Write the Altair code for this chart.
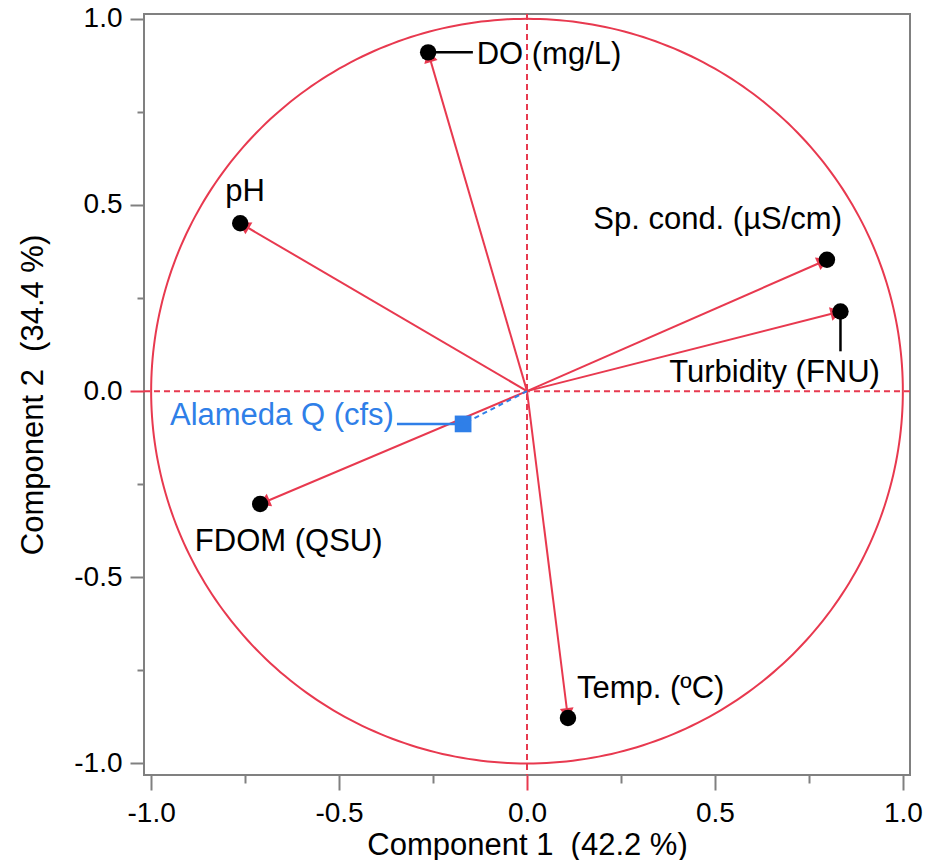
import altair as alt
import numpy as np
import pandas as pd

# ---- data ----
variables = ["DO (mg/L)", "pH", "Sp. cond. (µS/cm)", "Turbidity (FNU)", "FDOM (QSU)", "Temp. (ºC)"]
comp1 = [-0.263, -0.763, 0.798, 0.834, -0.710, 0.109]
comp2 = [0.910, 0.451, 0.353, 0.214, -0.303, -0.878]

supp_name = ["Alameda Q (cfs)"]
supp_comp1 = [-0.170]
supp_comp2 = [-0.088]

x_major = [-1.0, -0.5, 0.0, 0.5, 1.0]
x_minor = [-0.75, -0.25, 0.25, 0.75]
y_major = [-1.0, -0.5, 0.0, 0.5, 1.0]
y_minor = [-0.75, -0.25, 0.25, 0.75]

x_title = "Component 1\u00a0 (42.2 %)"
y_title = "Component 2\u00a0 (34.4 %)"

# label placement (layout, kept separate from the values)
label_x = [-0.134, -0.750, 0.838, 0.939, -0.634, 0.133]
label_y = [0.902, 0.535, 0.460, 0.048, -0.406, -0.801]
label_align = ["left", "center", "right", "right", "center", "left"]
supp_label_x = [-0.354]
supp_label_y = [-0.067]

RED = "#e8394f"
BLUE = "#2f7fe8"
GRAY = "#808080"
FONT = "Liberation Sans"

XDOM = [-1.019, 1.019]
YDOM = [-1.031, 1.013]

xs = alt.Scale(domain=XDOM, nice=False, zero=False)
ys = alt.Scale(domain=YDOM, nice=False, zero=False)

# ---- tables ----
vec = pd.DataFrame({"name": variables, "x": comp1, "y": comp2, "ox": 0.0, "oy": 0.0,
                    "lx": label_x, "ly": label_y, "align": label_align})
vec["angle"] = np.degrees(np.arctan2(vec["x"] * 376, vec["y"] * 373.3)) % 360
r = np.sqrt(vec["x"] ** 2 + vec["y"] ** 2)
vec["hx"] = vec["x"] * (1 - 0.011 / r)
vec["hy"] = vec["y"] * (1 - 0.011 / r)

supp = pd.DataFrame({"name": supp_name, "x": supp_comp1, "y": supp_comp2, "ox": 0.0, "oy": 0.0,
                     "lx": supp_label_x, "ly": supp_label_y})

theta = np.linspace(0, 2 * np.pi, 361)
circle = pd.DataFrame({"cx": np.cos(theta), "cy": np.sin(theta), "i": np.arange(361)})

zero = pd.DataFrame({"z": [0.0]})

# leader lines: DO (horizontal), Turbidity (vertical)
lead = pd.DataFrame({
    "x": [comp1[0], comp1[3]],
    "x2": [-0.144, comp1[3]],
    "y": [comp2[0], comp2[3]],
    "y2": [comp2[0], 0.107],
})
supp_lead = pd.DataFrame({"x": [-0.346], "x2": supp_comp1, "y": supp_comp2, "y2": supp_comp2})

tick_color = alt.condition("datum.value == 0", alt.value(RED), alt.value(GRAY))
lab_expr = "replace(format(datum.value, '.1f'), '\u2212', '-')"

x_axis = alt.Axis(values=x_major, orient="bottom", labelExpr=lab_expr, tickSize=15, tickWidth=2,
                  tickColor=tick_color, domain=False, grid=False, labelFontSize=28, labelFont=FONT,
                  labelColor="black", labelPadding=9, labelFlush=False, title=x_title,
                  titleFont=FONT, titleFontSize=31, titleFontWeight="normal", titleColor="black",
                  titleBaseline="alphabetic", titleY=79)
y_axis = alt.Axis(values=y_major, orient="left", labelExpr=lab_expr, tickSize=14, tickWidth=2,
                  tickColor=tick_color, domain=False, grid=False, labelFontSize=28, labelFont=FONT,
                  labelColor="black", labelPadding=8, labelFlush=False, title=y_title,
                  titleFont=FONT, titleFontSize=31, titleFontWeight="normal", titleColor="black",
                  titlePadding=24)
x_minor_axis = alt.Axis(values=x_minor, orient="bottom", tickSize=8, tickWidth=2, tickColor=GRAY,
                        domain=False, grid=False, labels=False, title="")
y_minor_axis = alt.Axis(values=y_minor, orient="left", tickSize=7, tickWidth=2, tickColor=GRAY,
                        domain=False, grid=False, labels=False, title="")

circle_layer = alt.Chart(circle).mark_line(color=RED, strokeWidth=2, clip=True).encode(
    x=alt.X("cx:Q", scale=xs, axis=x_axis),
    y=alt.Y("cy:Q", scale=ys, axis=y_axis),
    order="i:Q",
)

minor_layer = alt.Chart(circle).mark_line(opacity=0).encode(
    x=alt.X("cx:Q", scale=xs, axis=x_minor_axis),
    y=alt.Y("cy:Q", scale=ys, axis=y_minor_axis),
    order="i:Q",
)

h_ref = alt.Chart(zero).mark_rule(color=RED, strokeWidth=2, strokeDash=[6, 4]).encode(
    y=alt.Y("z:Q", scale=ys, axis=None))
v_ref = alt.Chart(zero).mark_rule(color=RED, strokeWidth=2, strokeDash=[6, 4]).encode(
    x=alt.X("z:Q", scale=xs, axis=None))

arrows = alt.Chart(vec).mark_rule(color=RED, strokeWidth=2).encode(
    x=alt.X("ox:Q", scale=xs, axis=None), y=alt.Y("oy:Q", scale=ys, axis=None),
    x2="x:Q", y2="y:Q")

heads = alt.Chart(vec).mark_point(shape="triangle-up", filled=True, color=RED, size=190, opacity=1).encode(
    x=alt.X("hx:Q", scale=xs, axis=None), y=alt.Y("hy:Q", scale=ys, axis=None),
    angle=alt.Angle("angle:Q", scale=None))

dots = alt.Chart(vec).mark_circle(color="black", size=270, opacity=1).encode(
    x=alt.X("x:Q", scale=xs, axis=None), y=alt.Y("y:Q", scale=ys, axis=None))

supp_line = alt.Chart(supp).mark_rule(color=BLUE, strokeWidth=2, strokeDash=[5, 4]).encode(
    x=alt.X("ox:Q", scale=xs, axis=None), y=alt.Y("oy:Q", scale=ys, axis=None),
    x2="x:Q", y2="y:Q")

supp_pt = alt.Chart(supp).mark_square(color=BLUE, size=280, opacity=1).encode(
    x=alt.X("x:Q", scale=xs, axis=None), y=alt.Y("y:Q", scale=ys, axis=None))

leaders = alt.Chart(lead).mark_rule(color="black", strokeWidth=2.5).encode(
    x=alt.X("x:Q", scale=xs, axis=None), y=alt.Y("y:Q", scale=ys, axis=None),
    x2="x2:Q", y2="y2:Q")

supp_leader = alt.Chart(supp_lead).mark_rule(color=BLUE, strokeWidth=2.5).encode(
    x=alt.X("x:Q", scale=xs, axis=None), y=alt.Y("y:Q", scale=ys, axis=None),
    x2="x2:Q", y2="y2:Q")


def label_layer(al):
    return alt.Chart(vec).transform_filter(f"datum.align == '{al}'").mark_text(
        align=al, baseline="middle", font=FONT, fontSize=31, color="black").encode(
        x=alt.X("lx:Q", scale=xs, axis=None), y=alt.Y("ly:Q", scale=ys, axis=None), text="name:N")


supp_label = alt.Chart(supp).mark_text(align="right", baseline="middle", font=FONT, fontSize=31,
                                        color=BLUE).encode(
    x=alt.X("lx:Q", scale=xs, axis=None), y=alt.Y("ly:Q", scale=ys, axis=None), text="name:N")

chart = alt.layer(
    circle_layer, minor_layer, h_ref, v_ref, arrows, supp_line, heads, dots, supp_pt,
    leaders, supp_leader, label_layer("left"), label_layer("center"), label_layer("right"), supp_label,
).resolve_axis(x="independent", y="independent").properties(
    width=766, height=761,
    padding={"left": 136, "top": 6, "right": 16, "bottom": 85},
    autosize=alt.AutoSizeParams(type="none"),
).configure_view(stroke=GRAY, strokeWidth=2)

chart.save("out.html", embed_options={"renderer": "svg", "actions": False})
